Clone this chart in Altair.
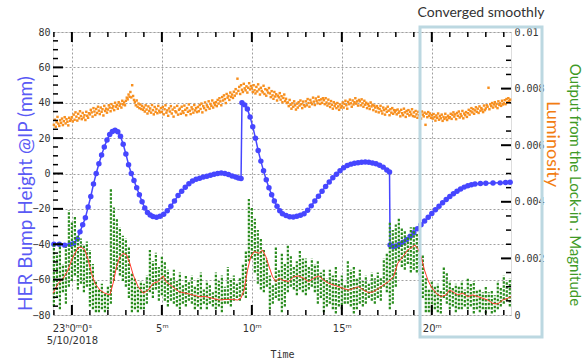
import altair as alt
import pandas as pd

# Plot area in pixels
W, H = 458, 283

# Time axis: minutes after 23:00:00 on 5/10/2018
T_MIN, T_MAX = -1.05, 24.4

# HER bump height at the IP (mm)
bump_t = [-1.0, -0.7, -0.4, -0.1, 0.1, 0.3, 0.45, 0.6, 0.75, 0.9, 1.05, 1.2, 1.35, 1.5, 1.65,
          1.8, 1.95, 2.1, 2.25, 2.4, 2.55, 2.7, 2.85, 3.0, 3.15, 3.3, 3.45, 3.6, 3.75, 3.9,
          4.05, 4.2, 4.35, 4.5, 4.7, 4.9, 5.1, 5.3, 5.5, 5.7, 5.9, 6.1, 6.3, 6.5, 6.7, 6.9,
          7.1, 7.3, 7.5, 7.7, 7.9, 8.1, 8.3, 8.5, 8.7, 8.9, 9.1, 9.25, 9.4, 9.45, 9.6, 9.75,
          9.9, 10.05, 10.2, 10.35, 10.5, 10.65, 10.8, 10.95, 11.1, 11.25, 11.4, 11.55, 11.7,
          11.9, 12.1, 12.3, 12.5, 12.7, 12.9, 13.1, 13.3, 13.5, 13.7, 13.9, 14.1, 14.3, 14.5,
          14.7, 14.9, 15.1, 15.3, 15.5, 15.7, 15.9, 16.1, 16.3, 16.5, 16.7, 16.9, 17.1, 17.3,
          17.5, 17.65, 17.68, 17.85, 18.0, 18.2, 18.4, 18.6, 18.8, 19.0, 19.2, 19.4, 19.6,
          19.8, 20.0, 20.2, 20.4, 20.6, 20.8, 21.0, 21.2, 21.4, 21.6, 21.8, 22.0, 22.2, 22.4,
          22.7, 23.0, 23.4, 23.8, 24.1, 24.35]
bump_mm = [-40, -40, -40.5, -40, -39.5, -37, -33, -29, -25, -19, -13, -6, 0, 5.5, 10.5,
           15, 19, 22, 23.8, 24.4, 23.6, 21, 16.5, 11, 5, 0, -4, -8, -12, -16,
           -19.5, -22, -23.5, -24.3, -24.7, -24.2, -23, -21, -18.5, -15.5, -12.5, -10, -7.8, -5.8, -4.3, -3.3,
           -2.7, -2, -1.5, -1, -0.4, 0, 0.3, 0, -0.6, -1.4, -2, -2.5, -2.8, 40, 38.8, 36.5,
           32, 26.5, 20, 13, 7, 1.5, -3.5, -8, -12, -15.5, -18.5, -21, -22.7,
           -23.8, -24.5, -24.6, -24.2, -23.6, -22.7, -20.8, -18.3, -15.5, -12.8, -10, -7.3, -4.8, -2.4,
           -0.4, 1.6, 3.2, 4.5, 5.3, 5.8, 6.1, 6.3, 6.5, 6.3, 6, 5.5, 4.7, 3.6,
           2, 0.8, -40.4, -41.3, -41, -40, -38.8, -37.3, -35.5, -33.5, -31.2, -29, -26.8,
           -24.7, -22.6, -20.5, -18.5, -16.5, -14.7, -13, -11.5, -10, -8.7, -7.7, -6.9, -6.3, -5.9,
           -5.6, -5.5, -5.4, -5.3, -5.1, -5.0]

# Luminosity (units of 1e-5), one sample every 0.05 min from t = -1.0
lum_t0, lum_dt = -1.0, 0.05
lum_e5 = [
    672, 690, 665, 681, 700, 676, 668, 688, 679, 694, 671, 685, 699, 677, 692, 683, 670, 697, 686, 691,
    699, 684, 708, 690, 716, 701, 687, 711, 695, 720, 703, 692, 714, 698, 706, 689, 718, 704, 697, 713,
    709, 725, 716, 701, 731, 719, 707, 728, 714, 736, 722, 710, 733, 718, 727, 705, 739, 721, 729, 715,
    726, 741, 733, 720, 745, 731, 738, 724, 750, 736, 742, 729, 752, 739, 746, 733, 757, 744, 751, 741,
    757, 768, 762, 779, 771, 788, 769, 812, 774, 760, 752, 741, 758, 736, 747, 731, 744, 728, 739, 725,
    733, 719, 741, 726, 712, 737, 721, 730, 715, 742, 724, 709, 735, 718, 728, 713, 739, 722, 716, 731,
    718, 735, 709, 727, 741, 715, 723, 704, 730, 719, 738, 712, 726, 701, 733, 720, 716, 739, 708, 725,
    729, 711, 736, 720, 714, 740, 725, 706, 731, 718, 744, 722, 710, 734, 727, 715, 742, 723, 731, 717,
    735, 720, 742, 728, 747, 716, 738, 731, 751, 724, 741, 735, 755, 729, 746, 739, 758, 733, 749, 742,
    752, 738, 760, 747, 766, 755, 741, 770, 758, 776, 763, 749, 781, 768, 774, 760, 786, 771, 779, 767,
    789, 775, 798, 783, 835, 792, 806, 781, 812, 796, 788, 817, 801, 794, 808, 786, 803, 819, 797, 809,
    801, 788, 812, 794, 783, 806, 790, 815, 797, 779, 803, 792, 787, 810, 781, 798, 775, 794, 786, 802,
    783, 770, 791, 776, 764, 788, 772, 780, 758, 775, 769, 784, 761, 773, 752, 767, 779, 756, 764, 749,
    751, 738, 760, 743, 729, 748, 736, 755, 741, 726, 747, 733, 752, 740, 758, 745, 731, 754, 742, 737,
    755, 741, 763, 749, 736, 760, 751, 745, 768, 754, 742, 765, 757, 748, 771, 759, 746, 762, 750, 766,
    759, 745, 766, 751, 740, 761, 747, 735, 756, 743, 729, 752, 738, 746, 731, 749, 737, 725, 744, 733,
    739, 751, 733, 746, 757, 741, 729, 753, 745, 761, 748, 736, 758, 744, 752, 766, 747, 755, 740, 760,
    755, 741, 762, 748, 736, 757, 743, 750, 731, 746, 739, 728, 751, 737, 743, 724, 740, 733, 719, 738,
    731, 716, 728, 739, 721, 712, 733, 724, 708, 729, 718, 736, 722, 706, 727, 715, 731, 711, 724, 717,
    723, 709, 726, 714, 719, 702, 725, 713, 706, 729, 716, 700, 721, 711, 724, 705, 718, 709, 727, 703,
    716, 701, 721, 709, 697, 718, 706, 713, 694, 719, 708, 702, 715, 672, 711, 699, 717, 704, 712, 697,
    706, 694, 710, 699, 687, 705, 697, 712, 690, 703, 695, 708, 686, 700, 693, 711, 698, 689, 704, 696,
    699, 711, 693, 707, 716, 701, 709, 692, 714, 704, 719, 698, 710, 703, 721, 695, 712, 706, 717, 700,
    713, 725, 708, 720, 731, 716, 727, 711, 723, 734, 718, 729, 714, 737, 722, 731, 726, 717, 740, 724,
    730, 741, 736, 803, 727, 745, 738, 749, 733, 744, 752, 737, 746, 731, 755, 742, 748, 739, 757, 744,
    748, 759, 745, 763, 752, 766, 755, 761,
]

# Lock-in magnitude (units of 1e-4): spread of samples in each 10 s window from t = -1.0
lockin_t0, lockin_dt = -1.0, 1 / 6
lockin_hi_e4 = [
    25, 21, 26, 18, 24, 37,   33, 35, 28, 27, 25, 26,   23, 18, 12, 9, 11, 8,
    10, 45, 38, 34, 31, 28,   27, 24, 15, 13, 10, 12,   11, 14, 23, 19, 22, 17,
    21, 19, 16, 13, 16, 12,   15, 11, 14, 12, 14, 10,   13, 15, 9, 12, 11, 8,
    15, 12, 14, 10, 17, 13,   14, 11, 13, 18, 23, 41,   38, 34, 30, 27, 23, 20,
    14, 11, 24, 16, 22, 18,   25, 21, 17, 19, 23, 20,   20, 17, 20, 18, 19, 15,
    16, 13, 16, 14, 17, 12,   14, 11, 19, 16, 17, 13,   16, 12, 14, 11, 15, 13,
    15, 13, 20, 22, 33, 30,   32, 34, 31, 30, 28, 31,   31, 29, 23, 21, 13, 9,
    12, 10, 11, 9, 17, 15,    12, 10, 11, 10, 12, 9,    13, 11, 12, 9, 9, 8,
    10, 8, 9, 7, 12, 10,      14, 12, 13,
]
lockin_lo_e4 = [
    3, 6, 2, 8, 4, 10,        12, 14, 9, 11, 8, 10,     3, 2, 1, 1, 2, 1,
    2, 4, 12, 16, 14, 12,     10, 6, 1, 2, 1, 2,        2, 4, 8, 6, 9, 5,
    7, 5, 3, 5, 4, 3,         2, 4, 3, 5, 4, 2,         3, 2, 4, 2, 4, 3,
    2, 3, 1, 4, 4, 3,         5, 6, 5, 7, 6, 19,        20, 15, 11, 9, 8, 10,
    2, 4, 6, 5, 1, 3,         8, 10, 9, 7, 9, 8,        7, 9, 10, 8, 4, 6,
    1, 3, 4, 2, 0.5, 3,       2, 4, 4, 3, 0.5, 2,       4, 3, 4, 6, 5, 4,
    6, 5, 10, 8, 2, 4,        10, 19, 17, 16, 18, 15,   16, 15, 14, 6, 1, 1,
    1, 2, 1, 0.5, 6, 4,       2, 3, 1, 2, 2, 3,         2, 3, 0.5, 2, 1, 2,
    0.5, 2, 0.5, 1, 2, 3,     4, 5, 3,
]

# Running average of the lock-in magnitude
avg_t = [-1.04, -0.76, -0.48, -0.21, -0.02, 0.17, 0.35, 0.54, 0.72, 0.91, 1.09, 1.28, 1.56,
         1.83, 2.11, 2.29, 2.48, 2.67, 2.85, 3.04, 3.22, 3.41, 3.68, 3.96, 4.24, 4.52, 4.79,
         5.07, 5.22, 5.59, 5.96, 6.33, 6.71, 7.07, 7.44, 7.82, 8.18, 8.56, 8.93, 9.21, 9.39,
         9.57, 9.76, 9.94, 10.13, 10.41, 10.59, 10.78, 10.96, 11.15, 11.33, 11.52, 11.67,
         12.04, 12.32, 12.59, 12.87, 13.15, 13.43, 13.71, 13.98, 14.26, 14.54, 14.82, 15.09,
         15.37, 15.65, 15.93, 16.21, 16.48, 16.76, 17.04, 17.32, 17.59, 17.87, 18.11, 18.39,
         18.67, 18.94, 19.07, 19.22, 19.41, 19.59, 19.78, 19.96, 20.24, 20.52, 20.79, 20.98,
         21.17, 21.44, 21.72, 22.0, 22.28, 22.56, 22.83, 23.11, 23.39, 23.67, 23.94, 24.22, 24.39]
avg_mag = [0.00077, 0.00112, 0.0013, 0.00159, 0.00194, 0.00218, 0.00239, 0.00239, 0.0023,
           0.00194, 0.00147, 0.00112, 0.00088, 0.00077, 0.00071, 0.00112, 0.0017, 0.00206,
           0.00218, 0.00212, 0.00183, 0.00141, 0.001, 0.00077, 0.00088, 0.00112, 0.00118,
           0.00138, 0.00118, 0.001, 0.00082, 0.00077, 0.00071, 0.00065, 0.00065, 0.00059,
           0.00053, 0.00055, 0.00055, 0.00053, 0.00059, 0.00088, 0.00159, 0.00206, 0.00224,
           0.00218, 0.0023, 0.00206, 0.0017, 0.00135, 0.00118, 0.0013, 0.00124, 0.00118,
           0.00135, 0.00138, 0.0013, 0.00118, 0.0013, 0.00138, 0.00124, 0.00112, 0.00106,
           0.001, 0.00094, 0.00088, 0.00094, 0.001, 0.00088, 0.00079, 0.00082, 0.00094,
           0.00106, 0.00118, 0.00135, 0.00183, 0.00206, 0.0023, 0.00241, 0.00247, 0.00235,
           0.00206, 0.00159, 0.00124, 0.001, 0.00077, 0.00065, 0.00071, 0.00088, 0.00082,
           0.00071, 0.00077, 0.00065, 0.00071, 0.00065, 0.00059, 0.00053, 0.00041, 0.00039,
           0.00053, 0.00059, 0.00065]

# Axis ticks
x_major = [0, 5, 10, 15, 20]
x_minor = [m for m in range(-1, 25) if m % 5]
left_major = [-60, -40, -20, 0, 20, 40, 60]
left_minor = [v for v in range(-75, 80, 5) if v % 20]
right_major = [0.002, 0.004, 0.006, 0.008]
right_minor = [k * 0.0005 for k in range(1, 20) if k % 4]

BLUE = "#4646ff"
ORANGE = "#f78f1e"
GREEN = "#2a8c1e"
RED = "#ff3b2b"
MONO = "DejaVu Sans Mono"
SANS = "Lato"

bump_df = pd.DataFrame({"t": bump_t, "bump": bump_mm})
lum_df = pd.DataFrame({"t": [lum_t0 + i * lum_dt for i in range(len(lum_e5))],
                       "lum": [v * 1e-5 for v in lum_e5]})
lockin_df = pd.DataFrame({"t": [lockin_t0 + i * lockin_dt for i in range(len(lockin_hi_e4))],
                          "lo": [v * 1e-4 for v in lockin_lo_e4],
                          "hi": [v * 1e-4 for v in lockin_hi_e4]})
avg_df = pd.DataFrame({"t": avg_t, "mag": avg_mag})

xscale = alt.Scale(domain=[T_MIN, T_MAX], nice=False, zero=False)
lscale = alt.Scale(domain=[-80, 80], nice=False, zero=False)
rscale = alt.Scale(domain=[0, 0.01], nice=False, zero=True)

# One shared time axis definition, used by every layer with a time field
time_axis = alt.Axis(
    values=x_major, title="Time", grid=True, gridDash=[2, 2], gridColor="#a0a0a0",
    ticks=False, domain=False, labelFont="DejaVu Sans", labelFontSize=10, labelColor="#333",
    labelPadding=8, labelLineHeight=12,
    labelExpr="datum.value == 0 ? ['\u00a0\u00a023\u02b00\u1d500\u02e2', '5/10/2018'] : datum.value + '\u1d50'",
    titleFont=MONO, titleFontSize=10, titleFontWeight="normal", titleColor="#333",
    titlePadding=4, labelFlush=False,
)
x_time = alt.X("t:Q", scale=xscale, axis=time_axis)

y_left_axis = alt.Y(
    "bump:Q", scale=lscale,
    axis=alt.Axis(
        orient="left", values=list(range(-80, 81, 20)), grid=True, gridDash=[2, 2],
        gridColor="#a0a0a0", ticks=False, domain=False, labelFont=MONO, labelFontSize=10,
        labelColor="#333", labelPadding=3, labelFlush=False,
        title="HER Bump Height @IP (mm)", titleFont=SANS, titleFontSize=19,
        titleFontWeight="normal", titleColor="#5a5af5", titleAngle=-90,
        titleX=-28, titleY=161, titleAlign="center", titleBaseline="middle",
    ),
)

orange = alt.Chart(lum_df).mark_square(size=6, color=ORANGE, opacity=1).encode(
    x=x_time, y=alt.Y("lum:Q", scale=rscale, axis=None))

blue_line = alt.Chart(bump_df).mark_line(color=BLUE, strokeWidth=1.5).encode(
    x=x_time, y=y_left_axis)
blue_pts = alt.Chart(bump_df).mark_circle(size=30, color=BLUE, opacity=1).encode(
    x=x_time, y=alt.Y("bump:Q", scale=lscale, axis=None))

green = alt.Chart(lockin_df).mark_rule(color=GREEN, strokeWidth=2.2, strokeDash=[2.5, 1.5]).encode(
    x=x_time,
    y=alt.Y("lo:Q", scale=rscale,
            axis=alt.Axis(orient="right", values=[0, 0.002, 0.004, 0.006, 0.008, 0.01],
                          format="~g", ticks=False, domain=False, grid=False,
                          labelFont=MONO, labelFontSize=10, labelColor="#333",
                          labelPadding=3, labelFlush=False, title=None)),
    y2="hi:Q")

red = alt.Chart(avg_df).mark_line(color=RED, strokeWidth=1).encode(
    x=x_time, y=alt.Y("mag:Q", scale=rscale, axis=None))


def x_ticks(vals, y0, y1, w):
    return alt.Chart(pd.DataFrame({"t": vals})).mark_rule(color="black", strokeWidth=w).encode(
        x=x_time, y=alt.value(y0), y2=alt.value(y1))


def y_ticks(vals, scale, x0, x1, w):
    return alt.Chart(pd.DataFrame({"v": vals})).mark_rule(color="black", strokeWidth=w).encode(
        y=alt.Y("v:Q", scale=scale, axis=None), x=alt.value(x0), x2=alt.value(x1))


ticks = [
    x_ticks(x_major, H, H - 10, 2), x_ticks(x_minor, H, H - 5, 1.5),
    x_ticks(x_major, 0, 10, 2), x_ticks(x_minor, 0, 5, 1.5),
    y_ticks(left_major, lscale, 0, 10, 2), y_ticks(left_minor, lscale, 0, 5, 1.5),
    y_ticks(right_major, rscale, W, W - 10, 2), y_ticks(right_minor, rscale, W, W - 5, 1.5),
]

# Highlight box around the converged stretch
box = alt.Chart(pd.DataFrame({"k": [0]})).mark_rect(
    fillOpacity=0, stroke="#bcd8e1", strokeWidth=3).encode(
    x=alt.value(367), x2=alt.value(489), y=alt.value(-5), y2=alt.value(305))
box_label = alt.Chart(pd.DataFrame({"s": ["Converged smoothly"]})).mark_text(
    font=SANS, fontSize=14, color="#333", align="center", baseline="middle").encode(
    x=alt.value(428), y=alt.value(-19), text="s:N")

lum_title = alt.Chart(pd.DataFrame({"s": ["Luminosity"]})).mark_text(
    font=SANS, fontSize=18, color="#f27d12", angle=90, align="center", baseline="middle").encode(
    x=alt.value(499), y=alt.value(112), text="s:N")
mag_title = alt.Chart(pd.DataFrame({"s": ["Output from the Lock-in : Magnitude"]})).mark_text(
    font=SANS, fontSize=15, color="#3f9a26", angle=90, align="center", baseline="middle").encode(
    x=alt.value(522), y=alt.value(153), text="s:N")

chart = alt.layer(
    orange, blue_line, blue_pts, green, red, *ticks, box, box_label, lum_title, mag_title
).resolve_scale(y="independent").properties(
    width=W, height=H,
    autosize=alt.AutoSizeParams(type="none"),
    padding={"left": 53, "top": 32, "right": 73, "bottom": 44},
).configure_view(stroke="black", strokeWidth=1.5).configure(background="white")

chart.save("out.html", embed_options={"renderer": "svg", "actions": False})
